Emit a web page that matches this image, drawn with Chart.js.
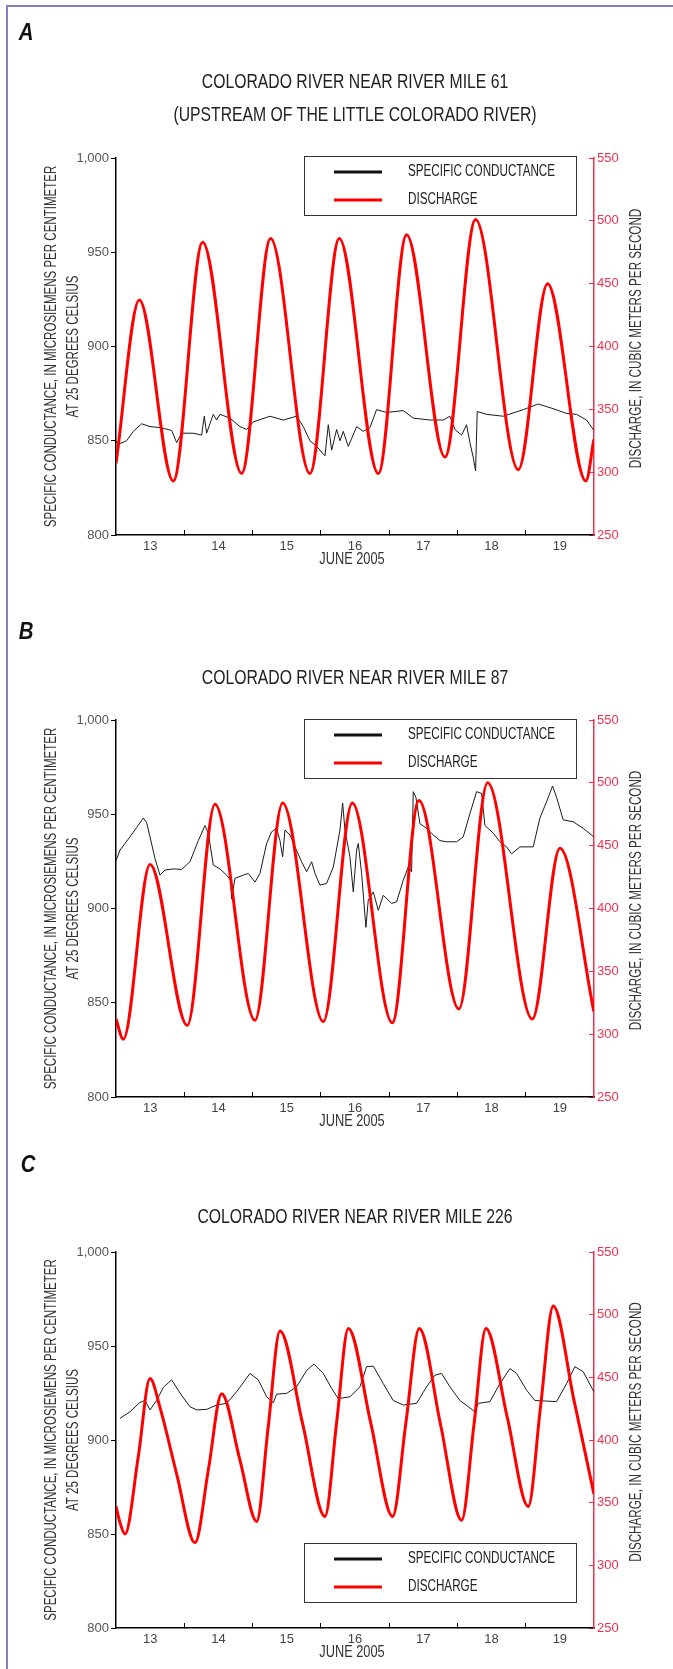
<!DOCTYPE html>
<html>
<head>
<meta charset="utf-8">
<script src="https://cdn.jsdelivr.net/npm/chart.js@4.4.1/dist/chart.umd.min.js"></script>
<style>
  html, body { margin: 0; padding: 0; background: #fff; }
  #page { position: relative; width: 673px; height: 1669px; overflow: hidden; background: #fff; }
  #frame { position: absolute; left: 6px; top: 5px; width: 800px; height: 1700px;
           border-left: 2px solid #8282c2; border-top: 2px solid #8282c2; }
  canvas { position: absolute; left: 0; }
</style>
</head>
<body>
<div id="page">
  <div id="frame"></div>
  <canvas id="panel-a" width="673" height="580" style="top:0px"></canvas>
  <canvas id="panel-b" width="673" height="548" style="top:580px"></canvas>
  <canvas id="panel-c" width="673" height="541" style="top:1128px"></canvas>
</div>
<script>
// time is decimal day of June 2005
const days_cond_a = [13.000, 13.059, 13.156, 13.254, 13.376, 13.498, 13.644, 13.815, 13.888, 13.961,
    14.132, 14.254, 14.293, 14.327, 14.376, 14.425, 14.474, 14.523, 14.669, 14.815,
    14.913, 15.011, 15.255, 15.450, 15.645, 15.743, 15.840, 15.938, 16.060, 16.109,
    16.158, 16.231, 16.280, 16.328, 16.402, 16.524, 16.621, 16.719, 16.816, 16.963,
    17.207, 17.353, 17.597, 17.793, 17.890, 17.963, 18.061, 18.134, 18.183, 18.232,
    18.266, 18.290, 18.427, 18.671, 18.964, 19.183, 19.403, 19.598, 19.745, 19.891, 19.998]
const cond_a = [849.6, 848.5, 850, 855, 859, 857.5, 857, 855.5, 849, 854,
    854, 853, 863, 854, 859, 864, 861, 864, 862, 857.5,
    856, 860, 863, 861, 863, 857.5, 850, 847, 842, 858.5,
    845, 856, 850, 855, 847, 857.5, 855, 857, 866.5, 865,
    866, 862, 861, 861, 863, 856, 853, 858.5, 849, 841,
    834, 865.5, 864, 863, 866.5, 869.5, 867, 864.5, 864, 861, 855.5]
const days_dis_a = [13.000, 13.342, 13.839, 14.269, 14.840, 15.264, 15.840, 16.270, 16.841, 17.256,
    17.817, 18.266, 18.891, 19.320, 19.881, 19.998]
const dis_a = [307, 437, 293, 483, 299, 486, 299, 486, 299, 489, 312, 501, 302, 450, 293, 326]

const days_cond_b = [13.000, 13.059, 13.132, 13.205, 13.303, 13.400, 13.449, 13.498, 13.571, 13.644,
    13.717, 13.839, 13.961, 14.083, 14.205, 14.303, 14.352, 14.425, 14.523, 14.620,
    14.679, 14.693, 14.742, 14.864, 14.938, 15.035, 15.108, 15.206, 15.279, 15.352,
    15.401, 15.440, 15.474, 15.548, 15.621, 15.718, 15.792, 15.865, 15.914, 15.987,
    16.084, 16.182, 16.280, 16.319, 16.353, 16.426, 16.475, 16.524, 16.548, 16.597,
    16.660, 16.694, 16.768, 16.841, 16.914, 17.036, 17.109, 17.207, 17.280, 17.329,
    17.353, 17.392, 17.451, 17.549, 17.646, 17.744, 17.841, 17.988, 18.085, 18.183,
    18.281, 18.354, 18.403, 18.525, 18.622, 18.720, 18.793, 18.915, 19.110, 19.208,
    19.305, 19.393, 19.452, 19.549, 19.696, 19.842, 19.998]
const cond_b = [925.3, 931, 934.5, 938, 943, 948, 945.5, 938, 926.5, 917.7,
    920.4, 921, 920.7, 924.8, 936, 944, 940, 923, 921, 917.7,
    915, 905, 916, 917.7, 918.6, 914, 918.6, 934.5, 940.7, 942.5,
    936, 927.4, 941.6, 939, 932.7, 924.8, 919.5, 924.8, 918.6, 912.4,
    913.3, 922, 941.6, 956, 941.6, 927.4, 908.8, 931, 934.5, 918.6,
    890, 904.4, 908.8, 899, 907, 902.7, 903.5, 915, 922, 919.5,
    962, 959, 945, 942.5, 939, 936, 935.4, 935.4, 938, 950.4,
    962, 961, 944, 940, 935.4, 932.7, 929, 932.7, 932.7, 948,
    956.6, 965, 959, 947, 946, 942.5, 938]
const days_dis_b = [13.000, 13.107, 13.498, 14.044, 14.449, 15.035, 15.440, 16.036, 16.460, 17.046,
    17.436, 18.022, 18.442, 19.096, 19.501, 19.998]
const dis_b = [312, 296, 435, 307, 483, 311, 484, 310, 484, 309, 486, 320, 500, 312, 448, 318]

const days_cond_c = [13.059, 13.205, 13.351, 13.425, 13.498, 13.595, 13.693, 13.815, 13.937, 14.083,
    14.181, 14.327, 14.474, 14.620, 14.767, 14.962, 15.084, 15.206, 15.304, 15.352,
    15.499, 15.645, 15.792, 15.899, 16.036, 16.158, 16.255, 16.426, 16.572, 16.670,
    16.768, 16.914, 17.060, 17.207, 17.402, 17.548, 17.671, 17.768, 17.890, 18.037,
    18.159, 18.256, 18.305, 18.476, 18.622, 18.769, 18.866, 19.013, 19.135, 19.305,
    19.452, 19.598, 19.720, 19.842, 19.998]
const cond_c = [911.5, 915, 920, 921, 916, 921, 928, 932, 925, 917.7,
    916, 916.3, 918.6, 919.5, 925.7, 935.4, 932, 923, 919.8, 924.4,
    924.8, 928.3, 937, 940.4, 935.4, 927.4, 922, 923, 928.3, 939,
    939.3, 930, 921, 918.6, 919.5, 928.3, 934.5, 935.4, 928.3, 921,
    917.7, 915, 919.5, 920.4, 930, 938, 935.4, 926.5, 921, 920.7,
    920.4, 930, 939, 936.3, 925.7]
const days_dis_c = [13.000, 13.059, 13.132, 13.327, 13.498, 13.644, 13.888, 14.157, 14.352, 14.547,
    14.815, 15.060, 15.230, 15.401, 15.733, 16.060, 16.231, 16.402, 16.729, 17.051,
    17.246, 17.441, 17.754, 18.061, 18.242, 18.417, 18.730, 19.037, 19.218, 19.403,
    19.706, 19.998]
const dis_c = [347, 334, 325, 387, 449, 426, 373, 318, 376, 437,
    384, 335, 411, 487, 413, 339, 414, 489, 414, 339,
    414, 489, 412, 336, 412, 489, 418, 347, 427, 507,
    432, 357]

const titles_a = ['COLORADO RIVER NEAR RIVER MILE 61', '(UPSTREAM OF THE LITTLE COLORADO RIVER)']
const titles_b = ['COLORADO RIVER NEAR RIVER MILE 87']
const titles_c = ['COLORADO RIVER NEAR RIVER MILE 226']
const legend_labels = ['SPECIFIC CONDUCTANCE', 'DISCHARGE']
const left_title = ['SPECIFIC CONDUCTANCE, IN MICROSIEMENS PER CENTIMETER', 'AT 25 DEGREES CELSIUS']
const right_title = 'DISCHARGE, IN CUBIC METERS PER SECOND'
const x_title = 'JUNE 2005'

const FONT = '"Liberation Sans", Arial, sans-serif'
const RED = '#ff0000'
const AXIS_RED = '#f2304e'
const PAGE_W = 673

function draw_text(ctx, s, x, y, size, sx, opts = {}) {
    ctx.save()
    ctx.font = (opts.weight || '') + ' ' + size + 'px ' + FONT
    ctx.fillStyle = opts.color || '#222'
    ctx.textBaseline = 'middle'
    ctx.textAlign = opts.align || 'center'
    ctx.translate(x, y)
    if (opts.rot) ctx.rotate(opts.rot)
    ctx.scale(sx, 1)
    ctx.fillText(s, 0, 0)
    ctx.restore()
}

const panel_text = {
    id: 'panelText',
    afterDraw: (chart, args, o) => {
        const { ctx, chartArea } = chart
        const mid = (chartArea.top + chartArea.bottom) / 2

        draw_text(ctx, o.letter, o.letter_x, o.letter_y, 24, 0.85, { weight: 'italic bold', color: '#111' })
        o.titles.forEach((t, i) => draw_text(ctx, t, (chartArea.left + chartArea.right) / 2, o.title_y[i], 21, 0.75))

        draw_text(ctx, left_title[0], 52, mid, 16, 0.72, { rot: -Math.PI / 2, color: '#333' })
        draw_text(ctx, left_title[1], 74, mid, 16, 0.72, { rot: -Math.PI / 2, color: '#333' })
        draw_text(ctx, right_title, 637, mid - 8, 16, 0.73, { rot: -Math.PI / 2, color: '#333' })
        draw_text(ctx, x_title, (chartArea.left + chartArea.right) / 2 - 3, chartArea.bottom + 25, 16, 0.8, { color: '#333' })

        // legend box
        const top = o.legend_top
        ctx.save()
        ctx.fillStyle = '#fff'
        ctx.fillRect(304, top, 272, 59)
        ctx.strokeStyle = '#333'
        ctx.lineWidth = 1
        ctx.strokeRect(304.5, top + 0.5, 272, 59)
        ctx.lineWidth = 3
        ;['#111', RED].forEach((c, i) => {
            const y = top + 16 + i * 28
            ctx.strokeStyle = c
            ctx.beginPath()
            ctx.moveTo(334, y)
            ctx.lineTo(382, y)
            ctx.stroke()
            draw_text(ctx, legend_labels[i], 408, y, 16, 0.73, { align: 'left', color: '#222' })
        })
        ctx.restore()
    }
}

function to_points(days, values) {
    return days.map((d, i) => ({ x: d, y: values[i] }))
}

function make_panel(canvas_id, canvas_top, canvas_h, area_top, area_bottom, data, text) {
    const canvas = document.getElementById(canvas_id)
    const tick_font = { family: FONT, size: 13 }

    new Chart(canvas, {
        type: 'line',
        data: {
            datasets: [
                {
                    label: legend_labels[1],
                    data: to_points(data.dis_days, data.dis),
                    yAxisID: 'y1',
                    borderColor: RED,
                    borderWidth: 3,
                    pointRadius: 0,
                    cubicInterpolationMode: 'monotone',
                    order: 0,
                },
                {
                    label: legend_labels[0],
                    data: to_points(data.cond_days, data.cond),
                    yAxisID: 'y',
                    borderColor: '#1a1a1a',
                    borderWidth: 1,
                    pointRadius: 0,
                    tension: 0,
                    order: 1,
                }
            ]
        },
        options: {
            responsive: false,
            animation: false,
            events: [],
            layout: { padding: { top: area_top - canvas_top, left: 0, right: 0, bottom: 0 } },
            plugins: {
                legend: { display: false },
                tooltip: { enabled: false },
                panelText: text,
            },
            scales: {
                x: {
                    type: 'linear',
                    min: 13,
                    max: 20,
                    afterFit: s => { s.height = canvas_h - (area_bottom - canvas_top) },
                    afterBuildTicks: s => {
                        s.ticks = []
                        for (let v = 13; v <= 20.001; v += 0.5) s.ticks.push({ value: v })
                    },
                    ticks: {
                        autoSkip: false,
                        maxRotation: 0,
                        padding: 9,
                        color: '#444',
                        font: tick_font,
                        callback: v => (Math.abs(v % 1 - 0.5) < 1e-6 ? String(Math.floor(v)) : ''),
                    },
                    grid: {
                        drawOnChartArea: false,
                        tickLength: -5,
                        tickWidth: 1,
                        tickColor: c => {
                            const v = c.tick ? c.tick.value : 0
                            return (v % 1 === 0 && v > 13 && v < 20) ? '#000' : 'rgba(0,0,0,0)'
                        },
                    },
                    border: { color: '#000', width: 1.5 },
                },
                y: {
                    position: 'left',
                    min: 800,
                    max: 1000,
                    afterFit: s => { s.width = 116 },
                    ticks: {
                        stepSize: 50,
                        padding: 2,
                        color: '#555',
                        font: tick_font,
                        callback: v => (v === 1000 ? '1,000' : String(v)),
                    },
                    grid: { drawOnChartArea: false, tickLength: 5, tickColor: '#000' },
                    border: { color: '#000', width: 1.5 },
                },
                y1: {
                    position: 'right',
                    min: 250,
                    max: 550,
                    afterFit: s => { s.width = PAGE_W - 594 },
                    ticks: { stepSize: 50, padding: 8, color: AXIS_RED, font: tick_font },
                    grid: { drawOnChartArea: false, tickLength: -5, tickColor: AXIS_RED },
                    border: { color: AXIS_RED, width: 1.5 },
                }
            }
        },
        plugins: [panel_text],
    })
}

make_panel('panel-a', 0, 580, 158, 535,
    { cond_days: days_cond_a, cond: cond_a, dis_days: days_dis_a, dis: dis_a },
    { letter: 'A', letter_x: 26, letter_y: 33, titles: titles_a, title_y: [82, 115], legend_top: 156 })

make_panel('panel-b', 580, 548, 720, 1097,
    { cond_days: days_cond_b, cond: cond_b, dis_days: days_dis_b, dis: dis_b },
    { letter: 'B', letter_x: 26, letter_y: 632 - 580, titles: titles_b, title_y: [678 - 580], legend_top: 719 - 580 })

make_panel('panel-c', 1128, 541, 1252, 1628,
    { cond_days: days_cond_c, cond: cond_c, dis_days: days_dis_c, dis: dis_c },
    { letter: 'C', letter_x: 28, letter_y: 1165 - 1128, titles: titles_c, title_y: [1217 - 1128], legend_top: 1543 - 1128 })
</script>
</body>
</html>
